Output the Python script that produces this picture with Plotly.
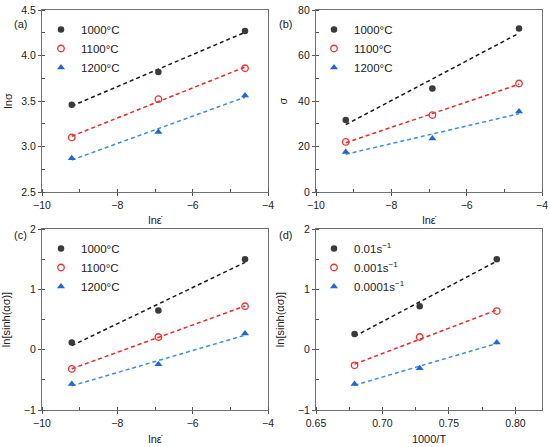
import numpy as np
import plotly.graph_objects as go

# x values
ln_rate = [-9.21, -6.91, -4.61]          # ln(0.0001), ln(0.001), ln(0.01)
inv_T = [0.679, 0.728, 0.786]            # 1000/T for 1200, 1100, 1000 C

temps = ["1000°C", "1100°C", "1200°C"]
rates = ["0.01s<sup>−1</sup>", "0.001s<sup>−1</sup>", "0.0001s<sup>−1</sup>"]

# (a) ln(sigma) vs ln(strain rate)
lnsig_1000 = [3.46, 3.82, 4.27]
lnsig_1100 = [3.10, 3.52, 3.86]
lnsig_1200 = [2.87, 3.16, 3.56]

# (b) sigma vs ln(strain rate)
sig_1000 = [31.7, 45.5, 71.9]
sig_1100 = [22.0, 33.8, 47.7]
sig_1200 = [17.6, 23.5, 35.4]

# (c) ln[sinh(a*sigma)] vs ln(strain rate)
lnsinh_1000 = [0.12, 0.65, 1.50]
lnsinh_1100 = [-0.32, 0.21, 0.72]
lnsinh_1200 = [-0.57, -0.24, 0.27]

# (d) ln[sinh(a*sigma)] vs 1000/T
lnsinh_r2 = [0.26, 0.72, 1.50]
lnsinh_r3 = [-0.26, 0.21, 0.64]
lnsinh_r4 = [-0.57, -0.31, 0.12]

FONT = "Liberation Sans, Arial, sans-serif"
marker_styles = [
    dict(symbol="circle", size=6.5, color="#3a3a3a"),
    dict(symbol="circle-open", size=6.5, color="#ff2a2a", line=dict(width=1.3)),
    dict(symbol="triangle-up", size=7, color="#1f66de"),
]
line_colors = ["#1a1a1a", "#ff2020", "#3a8ee6"]

panels = [
    ("", ln_rate, [lnsig_1000, lnsig_1100, lnsig_1200], temps, "legend"),
    ("2", ln_rate, [sig_1000, sig_1100, sig_1200], temps, "legend2"),
    ("3", ln_rate, [lnsinh_1000, lnsinh_1100, lnsinh_1200], temps, "legend3"),
    ("4", inv_T, [lnsinh_r2, lnsinh_r3, lnsinh_r4], rates, "legend4"),
]

fig = go.Figure()
for ax, xs, series, names, leg in panels:
    for i, ys in enumerate(series):
        k, b = np.polyfit(xs, ys, 1)
        fx = [xs[0], xs[-1]]
        fig.add_trace(go.Scatter(x=fx, y=[k * v + b for v in fx], mode="lines",
                                 line=dict(color=line_colors[i], width=1.5, dash="4px,3px"),
                                 xaxis="x" + ax, yaxis="y" + ax, showlegend=False))
    for i, ys in enumerate(series):
        fig.add_trace(go.Scatter(x=xs, y=ys, mode="markers", name=names[i],
                                 marker=marker_styles[i], xaxis="x" + ax, yaxis="y" + ax,
                                 legend=leg))

W, H = 550, 447
left_dom = [42 / W, 268 / W]
right_dom = [316 / W, 542 / W]
top_dom = [1 - 192 / H, 1 - 10 / H]
bot_dom = [1 - 410 / H, 1 - 229 / H]

def axis(dom, anchor, rng, dtick, mdtick, title, standoff):
    return dict(domain=dom, anchor=anchor, range=rng, dtick=dtick, automargin=False,
                showgrid=False, zeroline=False, showline=True, linecolor="#707070",
                linewidth=1.2, mirror=True, ticks="outside", ticklen=3, tickcolor="#555",
                minor=dict(ticks="inside", ticklen=3, dtick=mdtick, tickcolor="#555"),
                tickfont=dict(size=10.5, color="#222", family=FONT),
                title=dict(text=title, font=dict(size=11, color="#222", family=FONT),
                           standoff=standoff))

xt = "lnε̇"
fig.update_layout(
    width=W, height=H, margin=dict(l=0, r=0, t=0, b=0, autoexpand=False),
    paper_bgcolor="white", plot_bgcolor="white",
    font=dict(family=FONT, color="#222"),
    xaxis=axis(left_dom, "y", [-10, -4], 2, 1, xt, 6),
    yaxis=axis(top_dom, "x", [2.5, 4.5], 0.5, 0.25, "lnσ", 6),
    xaxis2=axis(right_dom, "y2", [-10, -4], 2, 1, xt, 6),
    yaxis2=axis(top_dom, "x2", [0, 80], 20, 10, "σ", 8),
    xaxis3=axis(left_dom, "y3", [-10, -4], 2, 1, xt, 7),
    yaxis3=axis(bot_dom, "x3", [-1, 2], 1, 0.5, "ln[sinh(ασ)]", 10),
    xaxis4=axis(right_dom, "y4", [0.65, 0.82], 0.05, 0.025, "1000/T", 7),
    yaxis4=axis(bot_dom, "x4", [-1, 2], 1, 0.5, "ln[sinh(ασ)]", 10),
)
fig.update_layout(yaxis_tickformat=".1f", xaxis4_tickformat=".2f")

leg_common = dict(bgcolor="rgba(0,0,0,0)", font=dict(size=11.5, color="#222", family=FONT),
                  xanchor="left", yanchor="top", tracegroupgap=0)
fig.update_layout(
    legend=dict(x=41 / W, y=1 - 15 / H, **leg_common),
    legend2=dict(x=314 / W, y=1 - 15 / H, **leg_common),
    legend3=dict(x=41 / W, y=1 - 234 / H, **leg_common),
    legend4=dict(x=314 / W, y=1 - 234 / H, **leg_common),
)

for lab, px, py in [("(a)", 12, 16), ("(b)", 285, 16), ("(c)", 12, 235), ("(d)", 285, 235)]:
    fig.add_annotation(text=lab, x=px / W, y=1 - py / H, xref="paper", yref="paper",
                       showarrow=False, font=dict(size=11, color="#222", family=FONT))

fig.write_html("out.html", config={"displayModeBar": False},
               post_script="document.body.style.margin='0';")
